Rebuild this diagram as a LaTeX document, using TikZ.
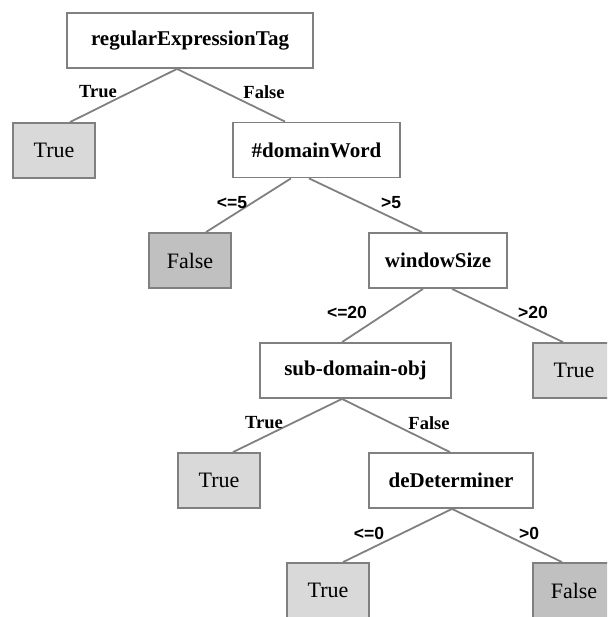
\documentclass[tikz,border=0pt]{standalone}
\usepackage{fontspec}
\setmainfont{Liberation Serif}
\setsansfont{Liberation Sans}
\definecolor{bordergray}{RGB}{128,128,128}
\definecolor{lightleaf}{RGB}{217,217,217}
\definecolor{darkleaf}{RGB}{192,192,192}
\begin{document}
\begin{tikzpicture}[x=1pt,y=-1pt,
  box/.style={draw=bordergray,line width=1.8pt,minimum height=55pt,inner sep=0pt,anchor=center},
  inner/.style={box,fill=white,font=\fontsize{21}{25}\selectfont\bfseries},
  leafT/.style={box,fill=lightleaf,minimum width=82pt,font=\fontsize{22}{26}\selectfont},
  leafF/.style={box,fill=darkleaf,minimum width=82pt,font=\fontsize{22}{26}\selectfont},
  edge/.style={draw=bordergray,line width=1.8pt},
  lab/.style={font=\fontsize{18.5}{22}\selectfont\bfseries,inner sep=0pt,anchor=center},
  numlab/.style={font=\fontsize{17.5}{21}\selectfont\sffamily\bfseries,inner sep=0pt,anchor=center}]
\useasboundingbox (0,0) rectangle (607,617);
\clip (0,0) rectangle (607,617);
% nodes
\node[inner,minimum width=246pt] (root) at (190,40.5) {regularExpressionTag};
\node[leafT] (t1) at (54,150.5) {True};
\node[inner,minimum width=167pt] (dw) at (316.5,150) {\#domainWord};
\node[leafF] (f1) at (190,260.5) {False};
\node[inner,minimum width=138pt] (ws) at (438,260.5) {windowSize};
\node[inner,minimum width=191pt] (sdo) at (355.5,370.5) {sub-domain-obj};
\node[leafT] (t2) at (574,370.5) {True};
\node[leafT] (t3) at (219,480.5) {True};
\node[inner,minimum width=164pt] (dd) at (451,480.5) {deDeterminer};
\node[leafT] (t4) at (328,590.5) {True};
\node[leafF] (f2) at (574,590.5) {False};
% edges
\draw[edge] ([xshift=-13pt]root.south) -- ([xshift=16pt]t1.north);
\draw[edge] ([xshift=-13pt]root.south) -- ([xshift=-31.5pt]dw.north);
\draw[edge] ([xshift=-25.5pt]dw.south) -- ([xshift=16pt]f1.north);
\draw[edge] ([xshift=-7.5pt]dw.south) -- ([xshift=-16pt]ws.north);
\draw[edge] ([xshift=-15pt]ws.south) -- ([xshift=-13.5pt]sdo.north);
\draw[edge] ([xshift=14pt]ws.south) -- ([xshift=-11pt]t2.north);
\draw[edge] ([xshift=-13.5pt]sdo.south) -- ([xshift=14pt]t3.north);
\draw[edge] ([xshift=-13.5pt]sdo.south) -- ([xshift=-1pt]dd.north);
\draw[edge] ([xshift=1pt]dd.south) -- ([xshift=15pt]t4.north);
\draw[edge] ([xshift=1pt]dd.south) -- ([xshift=-12pt]f2.north);
% labels
\node[lab] (l1) at (98,92) {True};
\node[lab] (l2) at (264,92) {False};
\node[numlab] (l3) at (232,203) {<=5};
\node[numlab] (l4) at (391,203) {>5};
\node[numlab] (l5) at (347,312) {<=20};
\node[numlab] (l6) at (533,312) {>20};
\node[lab] (l7) at (264,423) {True};
\node[lab] (l8) at (429,423) {False};
\node[numlab] (l9) at (369,533) {<=0};
\node[numlab] (l10) at (529,533) {>0};
\end{tikzpicture}
\end{document}
